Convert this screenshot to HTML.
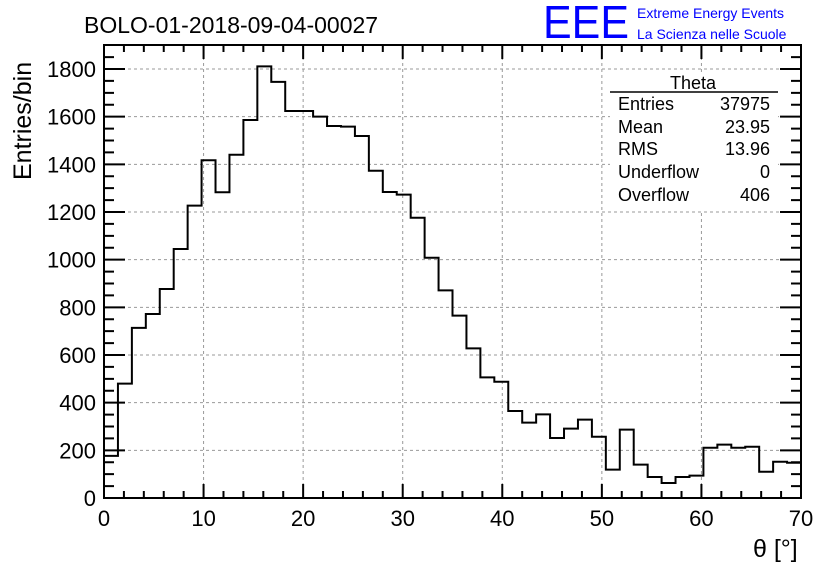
<!DOCTYPE html>
<html><head><meta charset="utf-8"><style>
body{margin:0;background:#fff;width:836px;height:572px;overflow:hidden;font-family:"Liberation Sans",sans-serif}
</style></head><body>
<svg id="chart" width="836" height="572" xmlns="http://www.w3.org/2000/svg" font-family="Liberation Sans, sans-serif">
<rect width="836" height="572" fill="#fff"/>
<g id="grid"></g><g id="ticks"></g><g id="labels"></g>
<path id="hist" fill="none" stroke="#000" stroke-width="2"/>
<rect x="104" y="45" width="697" height="453" fill="none" stroke="#000" stroke-width="2"/>
<text x="84" y="33" font-size="23">BOLO-01-2018-09-04-00027</text>
<text x="543" y="38" font-size="46" fill="#0000ff" textLength="86" lengthAdjust="spacingAndGlyphs">EEE</text>
<text x="637" y="18" font-size="14" fill="#0000ff">Extreme Energy Events</text>
<text x="637" y="39" font-size="14" fill="#0000ff">La Scienza nelle Scuole</text>
<text transform="translate(31,180) rotate(-90)" font-size="25">Entries/bin</text>
<text x="753" y="557" font-size="25">θ [°]</text>
<g font-size="18">
<rect x="610" y="75" width="168" height="135" fill="#fff"/>
<text x="693" y="89" text-anchor="middle">Theta</text>
<line x1="610" y1="92" x2="778" y2="92" stroke="#000" stroke-width="1.5"/>
<text x="618" y="110">Entries</text><text x="770" y="110" text-anchor="end">37975</text>
<text x="618" y="133">Mean</text><text x="770" y="133" text-anchor="end">23.95</text>
<text x="618" y="155">RMS</text><text x="770" y="155" text-anchor="end">13.96</text>
<text x="618" y="178">Underflow</text><text x="770" y="178" text-anchor="end">0</text>
<text x="618" y="201">Overflow</text><text x="770" y="201" text-anchor="end">406</text>
</g>
</svg>
<script>
const binCounts=[177,480,714,772,877,1045,1227,1417,1283,1440,1586,1811,1746,1624,1624,1600,1561,1558,1519,1373,1284,1273,1176,1008,871,765,628,506,488,365,316,351,252,291,329,257,119,287,140,88,63,88,94,211,224,211,215,110,152,148];
const xTicks=[0,10,20,30,40,50,60,70];
const yTicks=[0,200,400,600,800,1000,1200,1400,1600,1800];
const xMin=0,xMax=70,yMin=0,yMax=1800;
const L=104,R=801,B=498,T=69;
const sx=v=>L+(v-xMin)/(xMax-xMin)*(R-L);
const sy=v=>B-(v-yMin)/(yMax-yMin)*(B-T);
const NS='http://www.w3.org/2000/svg';
function mk(tag,attrs,parent){const e=document.createElementNS(NS,tag);for(const k in attrs)e.setAttribute(k,attrs[k]);parent.appendChild(e);return e;}
const grid=document.getElementById('grid'),ticks=document.getElementById('ticks'),labels=document.getElementById('labels');
xTicks.forEach(v=>{
 if(v>xMin&&v<xMax){const g=mk('line',{x1:sx(v),x2:sx(v),y1:45,y2:B,stroke:'#999','stroke-dasharray':'3,3'},grid);
 
 }
 const t=mk('text',{x:sx(v),y:526,'font-size':22,'text-anchor':'middle'},labels);t.textContent=v;
 
 
});
yTicks.forEach(v=>{
 if(v>yMin){const g=mk('line',{x1:L,x2:R,y1:sy(v),y2:sy(v),stroke:'#999','stroke-dasharray':'3,3'},grid);
 
 }
 const t=mk('text',{x:96,y:sy(v)+8,'font-size':22,'text-anchor':'end'},labels);t.textContent=v;
 
 
});
let d='';
for(let v=xMin;v<=xMax;v+=2){const len=(v%10===0)?14:7;d+=`M${sx(v)},${B}v${-len}M${sx(v)},45v${len}`;}
for(let v=yMin;v<=1850;v+=50){const y=sy(v);if(y<45)continue;const len=(v%200===0)?21:10;d+=`M${L},${y}h${len}M${R},${y}h${-len}`;}
const tk=mk('path',{d:d,stroke:'#000','stroke-width':2,fill:'none'},ticks);


const w=(xMax-xMin)/binCounts.length;
let p=`M${sx(xMin)},${sy(binCounts[0])}`;
binCounts.forEach((c,i)=>{p+=`L${sx(xMin+i*w)},${sy(c)}L${sx(xMin+(i+1)*w)},${sy(c)}`;});
document.getElementById('hist').setAttribute('d',p);
</script>
</body></html>
